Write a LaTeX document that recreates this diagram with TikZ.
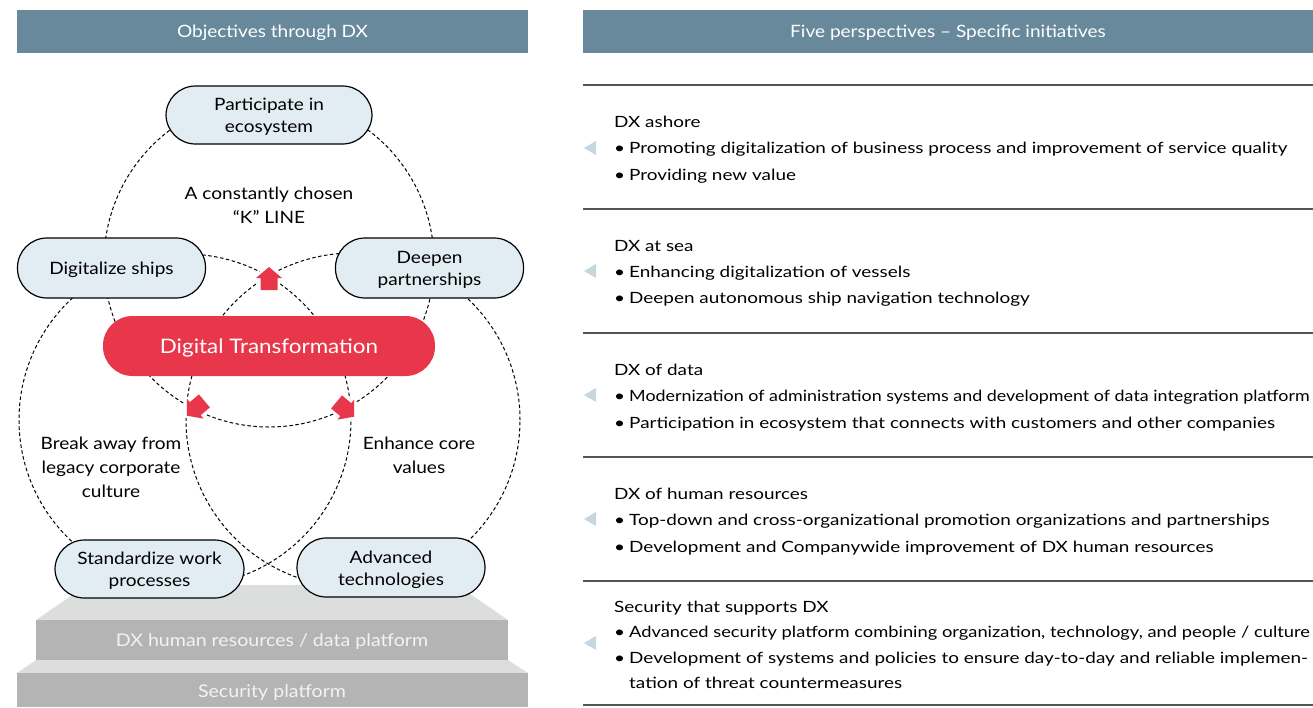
\documentclass[tikz,border=0pt]{standalone}
\usepackage{fontspec}
\setmainfont{Lato}[FakeStretch=1.12]
\newfontfamily\panelfont{Lato}[FakeStretch=1.22]
\usepackage{graphicx}
\usepackage{tikz}
\usetikzlibrary{positioning}

\definecolor{headblue}{RGB}{104,137,155}
\definecolor{pillblue}{RGB}{226,236,243}
\definecolor{dxred}{RGB}{232,55,74}
\definecolor{steptop}{RGB}{220,221,221}
\definecolor{stepfront}{RGB}{180,180,180}
\definecolor{steptext}{RGB}{243,243,243}
\definecolor{markblue}{RGB}{200,214,224}
\definecolor{rulegray}{RGB}{85,85,85}

\newcommand{\blt}{\makebox[15pt][l]{\textbullet}}
\newcommand{\pilltext}[1]{\raisebox{-2.5pt}[\height][\depth]{\begin{tabular}{@{}c@{}}#1\end{tabular}}}
\newcommand{\headtext}[1]{\raisebox{-1.5pt}[\height][\depth]{#1}}

\tikzset{
	pill/.style={draw=black, line width=1.2pt, fill=pillblue, rounded corners=29.5pt,
		minimum width=188pt, minimum height=59pt, inner sep=0pt, align=center,
		font=\fontsize{17}{22}\selectfont},
	ring/.style={line width=1pt, dash pattern=on 3.5pt off 2.5pt},
	headbox/.style={fill=headblue, text=white, inner sep=0pt, minimum height=43pt,
		font=\fontsize{17}{20}\selectfont},
	lbl/.style={align=center, inner sep=0pt, font=\fontsize{17}{24}\selectfont},
	steplbl/.style={text=steptext, inner sep=0pt, font=\fontsize{17.5}{20}\selectfont},
	item/.style={anchor=north west, align=left, inner sep=0pt, font=\panelfont\fontsize{15.5}{26.3}\selectfont},
	redarrow/.pic={
		\fill[dxred, preaction={draw=white, line width=5pt, line join=round}]
			(0,-12) -- (13,-1) -- (8.5,-1) -- (8.5,11) -- (-8.5,11) -- (-8.5,-1) -- (-13,-1) -- cycle;
	}
}

\begin{document}
\begin{tikzpicture}[x=1pt,y=-1pt]
	\useasboundingbox (0,0) rectangle (1313,707);

	% headers
	\node[headbox, minimum width=511pt] (lefthead) at (272.5,31.5) {\headtext{Objectives through DX}};
	\node[headbox, minimum width=730pt] (righthead) at (948,31.5) {\headtext{Five perspectives -- Specific initiatives}};

	% platform steps
	\fill[steptop] (36,620) -- (87,585) -- (457,585) -- (508,620) -- cycle;
	\fill[stepfront] (36,620) rectangle (508,660);
	\fill[steptop] (17,673) -- (36,660) -- (508,660) -- (528,673) -- cycle;
	\fill[stepfront] (17,673) rectangle (528,707);
	\node[steplbl] (dataplat) at (272,642) {DX human resources / data platform};
	\node[steplbl] (secplat) at (272,693) {Security platform};

	% three circles
	\draw[ring] (269,262) circle[radius=165pt];
	\draw[ring] (185,420) circle[radius=166pt];
	\draw[ring] (353,420) circle[radius=167pt];

	\pic at (269,279) {redarrow};
	\pic[rotate=130] at (196,408) {redarrow};
	\pic[rotate=-130] at (345,409) {redarrow};

	\node[pill, minimum width=206pt, minimum height=58pt] (eco) at (269,115) {\pilltext{Participate in\\ecosystem}};
	\node[pill, minimum height=60pt] (ships) at (111.5,268) {\pilltext{Digitalize ships}};
	\node[pill, minimum height=60pt] (partner) at (429.5,268) {\pilltext{Deepen\\partnerships}};
	\node[pill, draw=none, fill=dxred, text=white, minimum width=332pt, minimum height=60pt,
		font=\fontsize{20}{24}\selectfont] (dt) at (269,346) {\pilltext{Digital Transformation}};
	\node[pill, minimum width=189pt, minimum height=58pt] (std) at (149.5,569) {\pilltext{Standardize work\\processes}};
	\node[pill] (adv) at (391,567.5) {\pilltext{Advanced\\technologies}};

	\node[lbl] (kline) at (269,205) {A constantly chosen\\“K” LINE};
	\node[lbl] (legacy) at (111,467) {Break away from\\legacy corporate\\culture};
	\node[lbl] (core) at (419,455) {Enhance core\\values};

	% right panel
	\foreach \y in {85,209,333,457,581,705}
		\draw[rulegray, line width=1.2pt] (583,\y) -- (1313,\y);
	\foreach \y in {148,271,395,519,643}
		\fill[markblue] (596,\y-7) -- (596,\y+7) -- (584,\y) -- cycle;

	\node[item] (ashore) at (614,116) {DX ashore\\
		\blt Promoting digitalization of business process and improvement of service quality\\
		\blt Providing new value};
	\node[item] (sea) at (614,240) {DX at sea\\
		\blt Enhancing digitalization of vessels\\
		\blt Deepen autonomous ship navigation technology};
	\node[item] (data) at (614,364) {DX of data\\
		\blt \scalebox{0.945}[1]{Modernization of administration systems and development of data integration platform}\\
		\blt Participation in ecosystem that connects with customers and other companies};
	\node[item] (human) at (614,488) {DX of human resources\\
		\blt Top-down and cross-organizational promotion organizations and partnerships\\
		\blt Development and Companywide improvement of DX human resources};
	\node[item, font=\panelfont\fontsize{15.5}{25.5}\selectfont] (secure) at (614,600.5) {Security that supports DX\\
		\blt \scalebox{0.968}[1]{Advanced security platform combining organization, technology, and people / culture}\\
		\blt Development of systems and policies to ensure day-to-day and reliable implemen-\\
		\hspace*{15pt}tation of threat countermeasures};
\end{tikzpicture}
\end{document}
